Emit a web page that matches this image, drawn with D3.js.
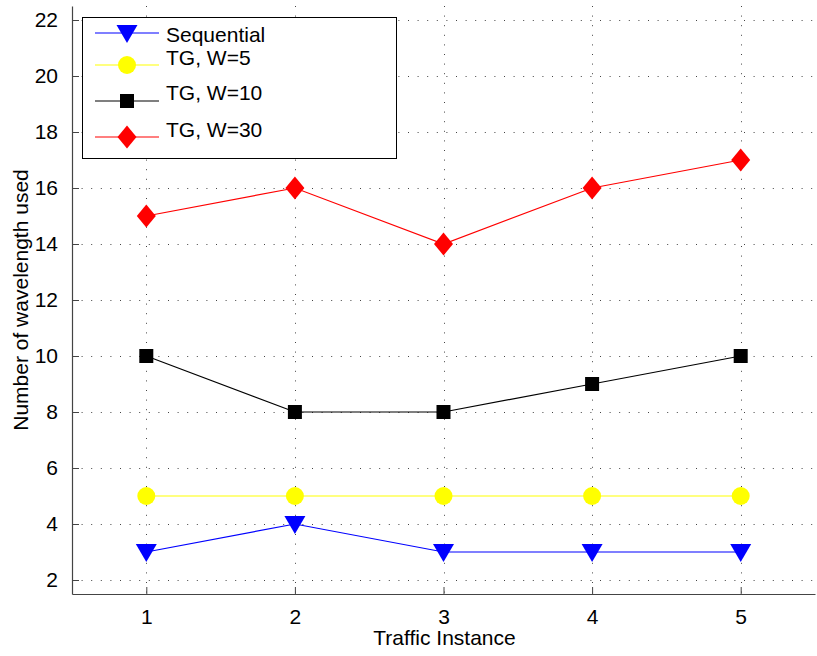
<!DOCTYPE html>
<html>
<head>
<meta charset="utf-8">
<script src="https://cdn.jsdelivr.net/npm/d3@7"></script>
<style>
  body { margin: 0; background: #fff; }
  text { font-family: "Liberation Sans", Arial, sans-serif; }
</style>
</head>
<body>
<svg id="chart" width="817" height="656"></svg>
<script>
// ---- data ----
const categories = [1, 2, 3, 4, 5];
const seriesNames = ["Sequential", "TG, W=5", "TG, W=10", "TG, W=30"];
const sequential = [3, 4, 3, 3, 3];
const tgW5 = [5, 5, 5, 5, 5];
const tgW10 = [10, 8, 8, 9, 10];
const tgW30 = [15, 16, 14, 16, 17];
const yTicks = [2, 4, 6, 8, 10, 12, 14, 16, 18, 20, 22];
const xTicks = [1, 2, 3, 4, 5];
const xLabel = "Traffic Instance";
const yLabel = "Number of wavelength used";

const series = [
  { name: seriesNames[0], values: sequential, color: "#0000ff", marker: "tri" },
  { name: seriesNames[1], values: tgW5, color: "#ffff00", marker: "circle" },
  { name: seriesNames[2], values: tgW10, color: "#000000", marker: "square" },
  { name: seriesNames[3], values: tgW30, color: "#ff0000", marker: "diamond" }
];

const svg = d3.select("#chart");
const L = 72, R = 815, T = 6, B = 594;
const FS = "21px";
const x = d3.scaleLinear().domain([0.5, 5.5]).range([L, R]);
const y = d3.scaleLinear().domain([1.5, 22.5]).range([B, T]);

// grid
const grid = svg.append("g");
grid.selectAll(".vg").data(xTicks).enter().append("line")
  .attr("x1", d => Math.round(x(d)) + 0.5).attr("x2", d => Math.round(x(d)) + 0.5)
  .attr("y1", T).attr("y2", B)
  .attr("stroke", "#444").attr("stroke-width", 1).attr("stroke-dasharray", "1,8.6");
grid.selectAll(".hg").data(yTicks).enter().append("line")
  .attr("y1", d => Math.round(y(d)) + 0.5).attr("y2", d => Math.round(y(d)) + 0.5)
  .attr("x1", L).attr("x2", R)
  .attr("stroke", "#444").attr("stroke-width", 1).attr("stroke-dasharray", "1,8.6");

// axes
const xAxis = d3.axisBottom(x).tickValues(xTicks).tickSizeInner(-7).tickSizeOuter(0).tickPadding(15).tickFormat(d3.format("d"));
const yAxis = d3.axisLeft(y).tickValues(yTicks).tickSizeInner(-7).tickSizeOuter(0).tickPadding(14).tickFormat(d3.format("d"));
const gx = svg.append("g").attr("transform", `translate(0,${B})`).call(xAxis);
const gy = svg.append("g").attr("transform", `translate(${L},0)`).call(yAxis);
[gx, gy].forEach(g => {
  g.select(".domain").attr("stroke", "#444").attr("stroke-width", 1.2);
  g.selectAll(".tick line").attr("stroke", "#444");
  g.selectAll(".tick text").attr("fill", "#000").style("font-size", FS)
    .style("font-family", "'Liberation Sans', Arial, sans-serif");
});

// marker drawer
function drawMarker(g, type, cx, cy, color) {
  if (type === "tri") {
    g.append("path").attr("d", `M${cx - 10.5},${cy - 8}L${cx + 10.5},${cy - 8}L${cx},${cy + 10}Z`).attr("fill", color);
  } else if (type === "circle") {
    g.append("circle").attr("cx", cx).attr("cy", cy).attr("r", 9).attr("fill", color);
  } else if (type === "square") {
    g.append("rect").attr("x", cx - 7).attr("y", cy - 7).attr("width", 14).attr("height", 14).attr("fill", color);
  } else if (type === "diamond") {
    g.append("path").attr("d", `M${cx},${cy - 11.5}L${cx + 9.5},${cy}L${cx},${cy + 11.5}L${cx - 9.5},${cy}Z`).attr("fill", color);
  }
}

// lines + markers
const line = d3.line().x((d, i) => x(categories[i])).y(d => y(d));
series.forEach(s => {
  const g = svg.append("g");
  g.append("path").attr("d", line(s.values)).attr("fill", "none")
    .attr("stroke", s.color).attr("stroke-width", 1.2);
  s.values.forEach((v, i) => drawMarker(g, s.marker, x(categories[i]), y(v), s.color));
});

// axis labels
svg.append("text").attr("x", (L + R) / 2 + 1).attr("y", 645).attr("text-anchor", "middle")
  .style("font-size", FS).text(xLabel);
svg.append("text").attr("transform", `translate(28,${(T + B) / 2}) rotate(-90)`).attr("text-anchor", "middle")
  .style("font-size", FS).text(yLabel);

// legend
const leg = svg.append("g");
leg.append("rect").attr("x", 82.5).attr("y", 17.5).attr("width", 314).attr("height", 141)
  .attr("fill", "#fff").attr("stroke", "#000").attr("stroke-width", 1);
const rowY = [33, 65, 101, 137];
const textY = [42, 65, 100, 137];
series.forEach((s, i) => {
  const g = leg.append("g");
  g.append("line").attr("x1", 95).attr("x2", 159).attr("y1", rowY[i]).attr("y2", rowY[i])
    .attr("stroke", s.color).attr("stroke-width", 1.2);
  drawMarker(g, s.marker, 127, rowY[i], s.color);
  g.append("text").attr("x", 166).attr("y", textY[i]).style("font-size", FS).text(s.name);
});
</script>
</body>
</html>
